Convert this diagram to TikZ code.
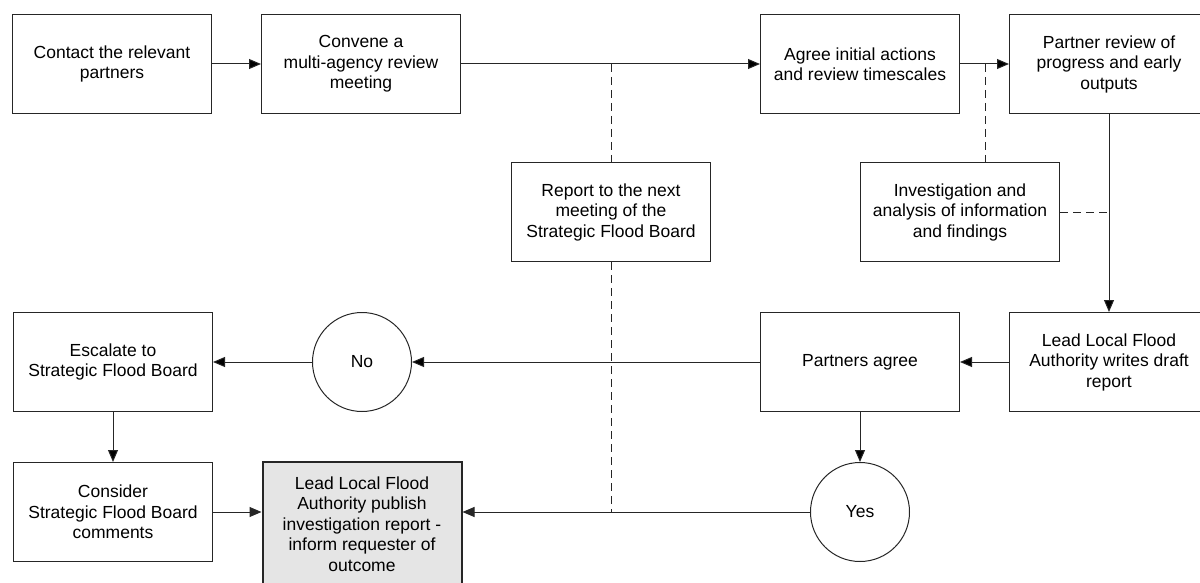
\documentclass[tikz,border=0pt]{standalone}
\usepackage{fontspec}
\setmainfont{Liberation Sans}
\usetikzlibrary{arrows.meta, positioning, shapes}
\tikzset{
		process/.style={draw=black!85, line width=1pt, minimum width=199pt, minimum height=99pt, align=center, inner sep=2pt},
		decision/.style={draw=black!85, line width=1pt, circle, minimum size=99pt, inner sep=0pt},
		outcome/.style={process, fill=black!10, line width=2pt, minimum height=124pt},
		link/.style={line width=1pt, draw=black!85},
		dashed link/.style={link, dash pattern=on 8pt off 5pt}
	}

\begin{document}
\begin{tikzpicture}[x=1pt, y=-1pt, >={Triangle[length=12pt, width=10pt]}, node distance=249pt, font=\fontsize{17.5}{20.5}\selectfont]
		\useasboundingbox (0,0) rectangle (1200,583);

		\node[process]  (contact)  at (112,64)                           {Contact the relevant\\partners};
		\node[process]  (convene)  [right of = contact]                  {Convene a\\multi-agency review\\meeting};
		\node[process]  (agree)    at (860,64)                           {Agree initial actions\\and review timescales};
		\node[process]  (review)   [right of = agree]                    {Partner review of\\progress and early\\outputs};
		\node[process]  (report)   at (611,212)                          {Report to the next\\meeting of the\\Strategic Flood Board};
		\node[process]  (analyse)  at (960,212)                          {Investigation and\\analysis of information\\and findings};
		\node[process]  (draft)    [below of = review, node distance=298pt] {Lead Local Flood\\Authority writes draft\\report};
		\node[process]  (agreed)   [left of = draft]                     {Partners agree};
		\node[decision] (no)       at (362,362)                          {No};
		\node[process]  (escalate) [left of = no]                        {Escalate to\\Strategic Flood Board};
		\node[process]  (consider) [below of = escalate, node distance=150pt] {Consider\\Strategic Flood Board\\comments};
		\node[decision] (yes)      [below of = agreed, node distance=150pt]   {Yes};
		\node[outcome]  (publish)  at (362,524)                          {Lead Local Flood\\Authority publish\\investigation report -\\inform requester of\\outcome};

		\coordinate (tap) at (985,64);

		\path[link, ->] (contact)  edge (convene);
		\path[link, ->] (convene)  edge (agree);
		\path[link, ->] (agree)    edge (review);
		\path[link, ->] (review)   edge (draft);
		\path[link, ->] (draft)    edge (agreed);
		\path[link, ->] (agreed)   edge (no);
		\path[link, ->] (no)       edge (escalate);
		\path[link, ->] (agreed)   edge (yes);
		\path[link, ->] (escalate) edge (consider);

		% the two ways into the published report stay level
		\draw[link, ->] (consider.east) -- (consider.east -| publish.west);
		\draw[link, ->] (yes.west)      -- (yes.west -| publish.east);

		% side links, no arrow heads
		\draw[dashed link] (report.north |- agree.west) -- (report.north);
		\draw[dashed link] (report.south) -- (report.south |- yes.west);
		\draw[dashed link] (tap) -- (tap |- analyse.north);
		\draw[dashed link] (analyse.east) -- (analyse.east -| review.south);

	\end{tikzpicture}
\end{document}
